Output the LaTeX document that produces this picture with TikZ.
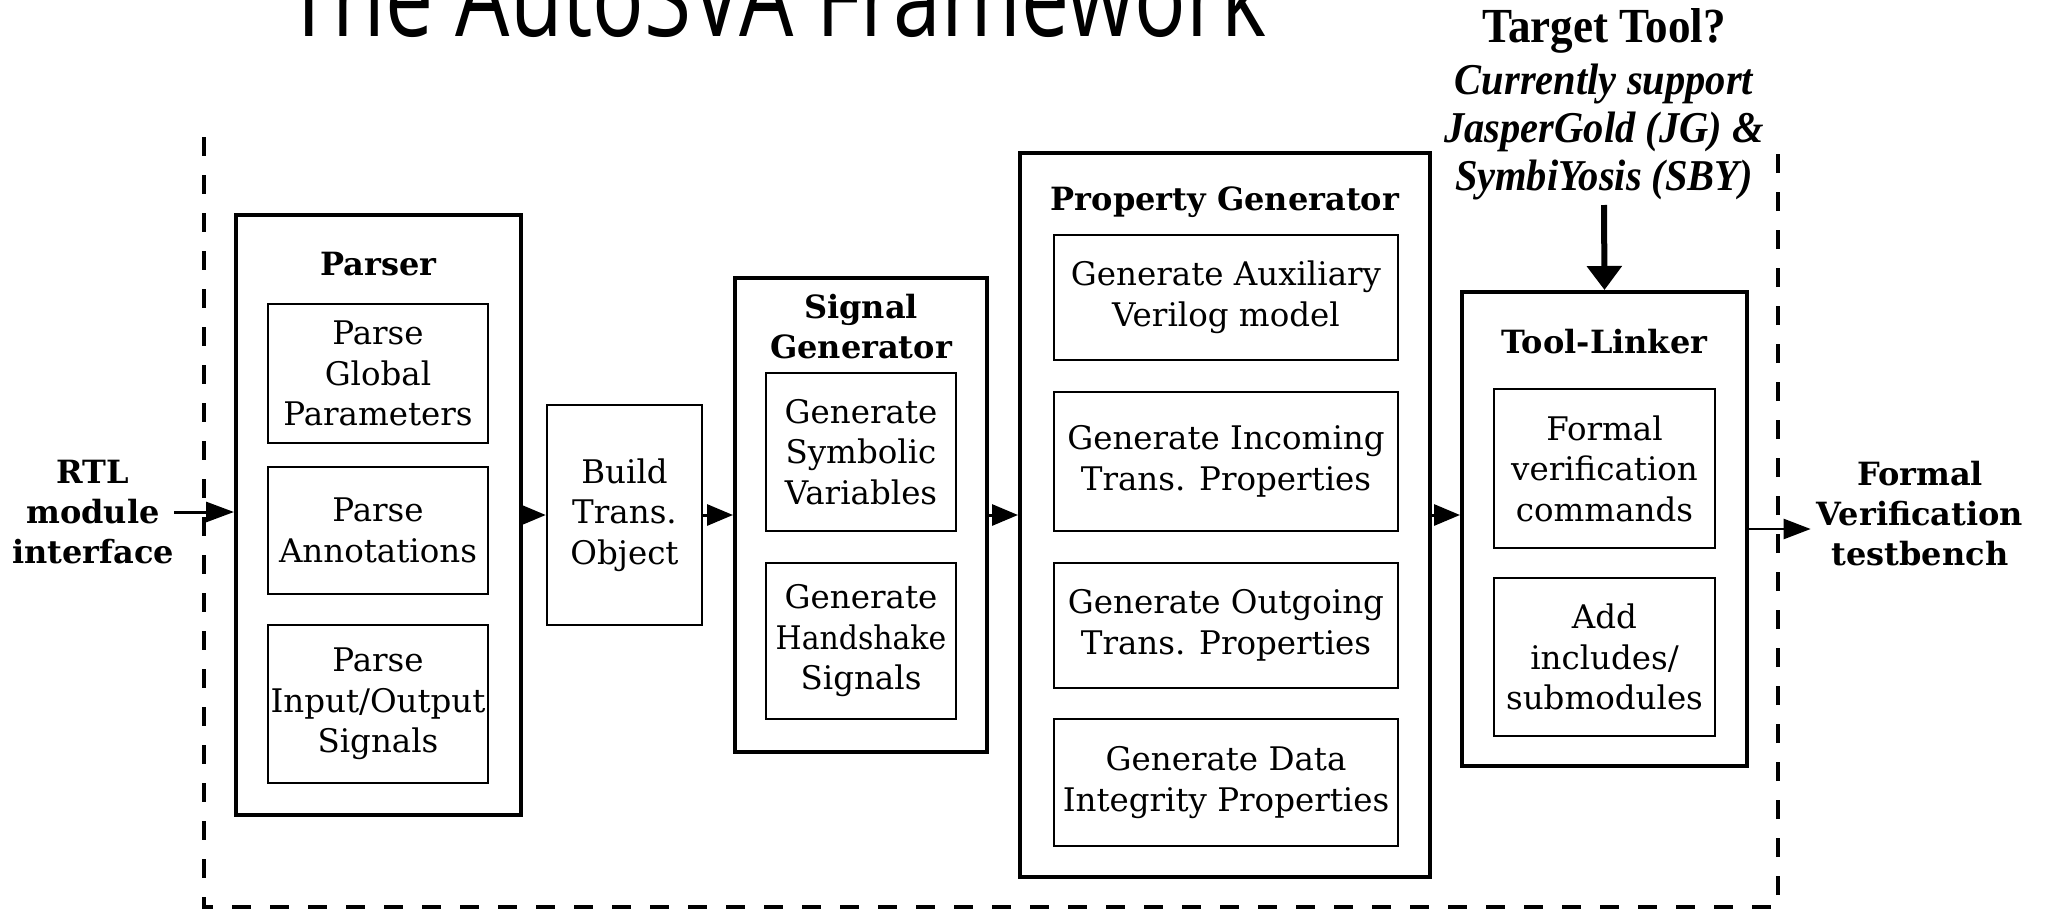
\documentclass[tikz,border=0pt]{standalone}
\usepackage{fontspec}
\setmainfont{DejaVu Serif}
\newfontfamily\titlefont[FakeStretch=0.78]{Open Sans}
\newfontfamily\timesfont[FakeStretch=0.92]{Liberation Serif}
\usetikzlibrary{arrows.meta}
\newcommand\myBody{\fontsize{32.5}{40.5}\selectfont}
\newcommand\myHead{\fontsize{32}{40}\selectfont\bfseries}
\tikzset{
  bigbox/.style={draw, line width=4, inner sep=0},
  subbox/.style={draw, line width=2.5, inner sep=0, align=center, font=\myBody},
  hd/.style={font=\myHead, align=center, inner sep=0},
  flow/.style={line width=3, -{Triangle[length=26pt,width=21pt]}},
}
\begin{document}
\begin{tikzpicture}[x=1pt,y=-1pt]
\useasboundingbox (0,0) rectangle (2047,910);
% title
\node[font=\titlefont\fontsize{110}{120}\selectfont, anchor=base west, inner sep=0] (title) at (285,36) {The AutoSVA Framework};
% dashed frame
\coordinate (dtl) at (204,137);
\coordinate (dbl) at (204,907);
\coordinate (dbr) at (1778,907);
\coordinate (dtr) at (1778,137);
\draw[line width=4, dash pattern=on 19 off 19] (dtl) -- (dbl) -- (dbr) -- (dtr);
% Parser
\node[bigbox, minimum width=285, minimum height=600] (parser) at (378.5,515) {};
\node[hd] (parserT) at (378.5,264) {Parser};
\node[subbox, minimum width=220, minimum height=139] (pgp) at (378,373.5) {Parse\\Global\\Parameters};
\node[subbox, minimum width=220, minimum height=127] (pa) at (378,530.5) {Parse\\Annotations};
\node[subbox, minimum width=220, minimum height=158] (pio) at (378,704) {Parse\\Input/Output\\Signals};
% Build
\node[subbox, minimum width=155, minimum height=220] (build) at (624.5,515) {Build\\Trans.\\Object};
% Signal generator
\node[bigbox, minimum width=252, minimum height=474] (sg) at (861,515) {};
\node[hd] (sgT) at (861,327) {Signal\\Generator};
\node[subbox, minimum width=190, minimum height=158] (gsv) at (861,452) {Generate\\Symbolic\\Variables};
\node[subbox, minimum width=190, minimum height=156] (ghs) at (861,641) {Generate\\\scalebox{0.92}[1]{Handshake}\\Signals};
% Property generator
\node[bigbox, minimum width=410, minimum height=724] (pg) at (1225,515) {};
\node[hd] (pgT) at (1225,202) {Property Generator};
\node[subbox, minimum width=344, minimum height=125] (aux) at (1226,297.5) {Generate Auxiliary\\Verilog model};
\node[subbox, minimum width=344, minimum height=139] (inc) at (1226,461.5) {Generate Incoming\\Trans. Properties};
\node[subbox, minimum width=344, minimum height=125] (outg) at (1226,625.5) {Generate Outgoing\\Trans. Properties};
\node[subbox, minimum width=344, minimum height=127] (data) at (1226,782.5) {Generate Data\\Integrity Properties};
% Tool linker
\node[bigbox, minimum width=285, minimum height=474] (tool) at (1604.5,529) {};
\node[hd] (toolT) at (1604.5,342) {Tool-Linker};
\node[subbox, minimum width=221, minimum height=159] (fvc) at (1604.5,468.5) {Formal\\verification\\commands};
\node[subbox, minimum width=221, minimum height=158] (ais) at (1604.5,657) {Add\\includes/\\submodules};
% outside labels
\node[hd] (rtl) at (93,512) {RTL\\module\\interface};
\node[hd] (fvt) at (1920,514) {Formal\\Verification\\testbench};
\node[align=center, inner sep=0, font=\timesfont\fontsize{44}{48}\selectfont\bfseries] (target) at (1604,104)
  {{\fontsize{49}{48}\selectfont Target Tool?}\\[4pt]\itshape Currently support\\\itshape JasperGold (JG) \&\\\itshape SymbiYosis (SBY)};
\coordinate (tgt) at (1604,205);
% connectors
\draw[line width=3, -{Triangle[length=28pt,width=20pt]}] (rtl.east) -- (rtl.east -| parser.west);
\draw[flow] (parser.east) -- (build.west);
\draw[flow] (build.east) -- (sg.west);
\draw[flow] (sg.east) -- (pg.west);
\draw[flow] (pg.east) -- (pg.east -| tool.west);
\draw[line width=2.5, -{Triangle[length=27pt,width=20pt]}, shorten >=6pt] (tool.east) -- (tool.east -| fvt.west);
\draw[line width=6, -{Triangle[length=24pt,width=34pt]}] (tgt) -- (tool.north);
\end{tikzpicture}
\end{document}
